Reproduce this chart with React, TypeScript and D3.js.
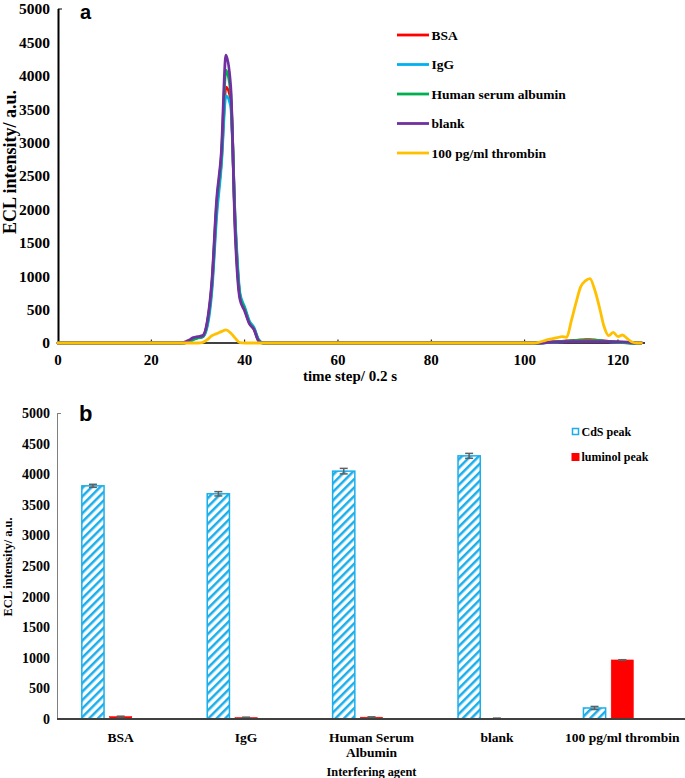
import React from "react";
import * as d3 from "d3";

// ---------- Panel a data ----------
const timeSteps = [0,
  25, 26, 27, 28, 29, 30, 31, 32, 33, 34, 35, 36, 37, 38, 39, 40, 41, 42, 43, 44, 45,
  102, 103, 104, 105, 106, 107, 108, 109, 110, 111, 112, 113, 114, 115, 116, 117, 118, 119, 120, 121, 122, 123, 124, 125];

const bsaCurve = [0,
  0, 0, 0, 20, 60, 80, 100, 290, 870, 2000, 2720, 3830, 3650, 1750, 700, 510, 310, 215, 40, 0, 0,
  0, 0, 5, 10, 15, 20, 25, 30, 35, 40, 45, 50, 50, 45, 40, 30, 25, 20, 15, 10, 5, 0, 0, 0];
const iggCurve = [0,
  0, 0, 0, 15, 50, 75, 90, 250, 800, 1900, 2650, 3700, 3550, 1800, 740, 540, 330, 230, 50, 0, 0,
  0, 0, 3, 6, 10, 14, 18, 22, 26, 30, 33, 35, 35, 33, 30, 25, 20, 15, 10, 6, 3, 0, 0, 0];
const hsaCurve = [0,
  0, 0, 0, 18, 55, 80, 95, 300, 900, 2080, 2780, 4080, 3750, 1700, 700, 510, 305, 210, 35, 0, 0,
  0, 0, 4, 8, 12, 17, 22, 27, 31, 35, 38, 40, 40, 38, 34, 28, 22, 17, 12, 7, 3, 0, 0, 0];
const blankCurve = [0,
  0, 0, 10, 40, 80, 95, 110, 330, 950, 2150, 2850, 4310, 3850, 1600, 650, 480, 290, 200, 30, 0, 0,
  0, 0, 0, 10, 15, 17, 18, 19, 20, 20, 20, 20, 20, 20, 20, 20, 19, 18, 17, 16, 12, 5, 0, 0];
const thrombinCurve = [0,
  0, 0, 0, 0, 0, 0, 10, 50, 110, 140, 170, 195, 150, 70, 5, 0, 0, 0, 0, 0, 0,
  0, 10, 30, 50, 65, 80, 95, 85, 330, 600, 840, 930, 965, 800, 543, 250, 110, 160, 95, 120, 65, 15, 0, 0];

const lineSeriesNames = ["BSA", "IgG", "Human serum albumin", "blank", "100 pg/ml thrombin"];
const lineSeriesValues = [bsaCurve, iggCurve, hsaCurve, blankCurve, thrombinCurve];
const lineColors = ["#FF0000", "#00B0F0", "#00B050", "#7030A0", "#FFC000"];
const xTicksA = [0, 20, 40, 60, 80, 100, 120];
const yTicks = [0, 500, 1000, 1500, 2000, 2500, 3000, 3500, 4000, 4500, 5000];

// ---------- Panel b data ----------
const categories = ["BSA", "IgG", "Human Serum Albumin", "blank", "100 pg/ml thrombin"];
const categoryLabelLines = [["BSA"], ["IgG"], ["Human Serum", "Albumin"], ["blank"], ["100 pg/ml thrombin"]];
const cdsPeak = [3810, 3680, 4050, 4300, 180];
const cdsErr = [25, 35, 45, 40, 25];
const luminolPeak = [40, 25, 30, 10, 965];
const luminolErr = [6, 5, 5, 3, 4];
const barSeriesNames = ["CdS peak", "luminol peak"];

const SERIF = "'Liberation Serif', 'Times New Roman', serif";
const SANS = "'Liberation Sans', Arial, sans-serif";

export default function App() {
  const W = 685, H = 778;

  // Panel a scales
  const xA = d3.scaleLinear().domain([0, 125]).range([58, 641.3]);
  const yA = d3.scaleLinear().domain([0, 5000]).range([343, 9]);
  const lineGen = d3.line<number>()
    .x((_, i) => xA(timeSteps[i]))
    .y((d) => yA(d))
    .curve(d3.curveMonotoneX);

  // Panel b scales
  const xB = d3.scaleBand<string>().domain(categories).range([58, 685]).paddingInner(0.38).paddingOuter(0.19);
  const subKeys = ["cds", "luminol", "spare"];
  const xSub = d3.scaleBand<string>().domain(subKeys).range([0, xB.bandwidth()]).paddingInner(0.2);
  const yB = d3.scaleLinear().domain([0, 5000]).range([719, 413]);

  const errColor = "#606060";
  const blue = "#1AAEEB";

  const errBar = (cx: number, v: number, e: number, key: string) => (
    <g key={key} stroke={errColor} strokeWidth={1.5}>
      <line x1={cx} x2={cx} y1={yB(v + e)} y2={yB(Math.max(0, v - e))} />
      <line x1={cx - 4} x2={cx + 4} y1={yB(v + e)} y2={yB(v + e)} />
      <line x1={cx - 4} x2={cx + 4} y1={yB(Math.max(0, v - e))} y2={yB(Math.max(0, v - e))} />
    </g>
  );

  return (
    <svg width={W} height={H} style={{ position: "absolute", left: 0, top: 0, background: "#fff" }}>
      <defs>
        <pattern id="hatch" patternUnits="userSpaceOnUse" width={6} height={6} patternTransform="rotate(45)">
          <rect width={6} height={6} fill="#fff" />
          <line x1={0} y1={0} x2={0} y2={6} stroke={blue} strokeWidth={5} />
        </pattern>
      </defs>

      {/* ---------- Panel a ---------- */}
      <text x={80} y={18.5} fontFamily={SANS} fontWeight="bold" fontSize={20}>a</text>
      {yTicks.map((t) => (
        <text key={"ya" + t} x={50} y={yA(t)} dy="0.35em" textAnchor="end"
          fontFamily={SERIF} fontWeight="bold" fontSize={15.5}>{t}</text>
      ))}
      {xTicksA.map((t) => (
        <g key={"xa" + t}>
          {t > 0 && <line x1={xA(t)} x2={xA(t)} y1={343} y2={339.5} stroke="#000" strokeWidth={1} />}
          <text x={xA(t)} y={365} textAnchor="middle" fontFamily={SERIF} fontWeight="bold" fontSize={15}>{t}</text>
        </g>
      ))}
      <line x1={58} x2={645} y1={343} y2={343} stroke="#000" strokeWidth={1.5} />
      <line x1={58.5} x2={58.5} y1={9} y2={343} stroke="#000" strokeWidth={2} />
      <line x1={58} x2={62} y1={9} y2={9} stroke="#000" strokeWidth={1} />

      {lineSeriesValues.map((vals, i) => (
        <path key={"ln" + i} d={lineGen(vals) || ""} fill="none" stroke={lineColors[i]}
          strokeWidth={2.8} strokeLinejoin="round" strokeLinecap="round" />
      ))}

      <text transform={`translate(16,162) rotate(-90)`} textAnchor="middle"
        fontFamily={SERIF} fontWeight="bold" fontSize={18}>ECL intensity/ a.u.</text>
      <text x={350} y={381} textAnchor="middle" fontFamily={SERIF} fontWeight="bold" fontSize={15}>time step/ 0.2 s</text>

      {lineSeriesNames.map((n, i) => {
        const yy = 35 + i * 29.5;
        return (
          <g key={"lg" + i}>
            <line x1={397} x2={429} y1={yy} y2={yy} stroke={lineColors[i]} strokeWidth={2.8} />
            <text x={431.5} y={yy} dy="0.35em" fontFamily={SERIF} fontWeight="bold" fontSize={13.5}>{n}</text>
          </g>
        );
      })}

      {/* ---------- Panel b ---------- */}
      <text x={79} y={421} fontFamily={SANS} fontWeight="bold" fontSize={22}>b</text>
      {yTicks.map((t) => (
        <text key={"yb" + t} x={50} y={yB(t)} dy="0.35em" textAnchor="end"
          fontFamily={SERIF} fontWeight="bold" fontSize={14}>{t}</text>
      ))}
      <line x1={57.5} x2={57.5} y1={413} y2={719} stroke="#7f7f7f" strokeWidth={1} />
      <line x1={57.5} x2={61} y1={413.5} y2={413.5} stroke="#7f7f7f" strokeWidth={1} />

      {categories.map((c, i) => {
        const x0 = xB(c)!;
        const xc = x0 + xSub("cds")!;
        const xl = x0 + xSub("luminol")!;
        const bw = xSub.bandwidth();
        return (
          <g key={"bar" + i}>
            <rect x={xc} y={yB(cdsPeak[i])} width={bw} height={yB(0) - yB(cdsPeak[i])}
              fill="url(#hatch)" stroke={blue} strokeWidth={1.5} />
            <rect x={xl} y={yB(luminolPeak[i])} width={bw} height={yB(0) - yB(luminolPeak[i])}
              fill="#FF0000" stroke="#FF0000" strokeWidth={0.5} />
            {errBar(xc + bw / 2, cdsPeak[i], cdsErr[i], "ec" + i)}
            {errBar(xl + bw / 2, luminolPeak[i], luminolErr[i], "el" + i)}
          </g>
        );
      })}
      <line x1={57} x2={685} y1={719} y2={719} stroke="#404040" strokeWidth={2} />

      {categories.map((c, i) => {
        const cx = xB(c)! + xB.bandwidth() / 2;
        return categoryLabelLines[i].map((ln, j) => (
          <text key={"cl" + i + "_" + j} x={cx} y={741.5 + j * 15.5} textAnchor="middle"
            fontFamily={SERIF} fontWeight="bold" fontSize={13.5}>{ln}</text>
        ));
      })}
      <text x={371.5} y={776} textAnchor="middle" fontFamily={SERIF} fontWeight="bold" fontSize={12.3}>Interfering agent</text>
      <text transform={`translate(12,567) rotate(-90)`} textAnchor="middle"
        fontFamily={SERIF} fontWeight="bold" fontSize={12.4}>ECL intensity/ a.u.</text>

      {barSeriesNames.map((n, i) => {
        const yy = 432 + i * 25;
        return (
          <g key={"lb" + i}>
            {i === 0 ? (
              <rect x={572.5} y={yy - 3.5} width={6} height={6} fill="#fff" stroke={blue} strokeWidth={1.5} />
            ) : (
              <rect x={571.5} y={yy - 4} width={8} height={8} fill="#FF0000" />
            )}
            <text x={581.5} y={yy} dy="0.35em" fontFamily={SERIF} fontWeight="bold" fontSize={12}>{n}</text>
          </g>
        );
      })}
    </svg>
  );
}
